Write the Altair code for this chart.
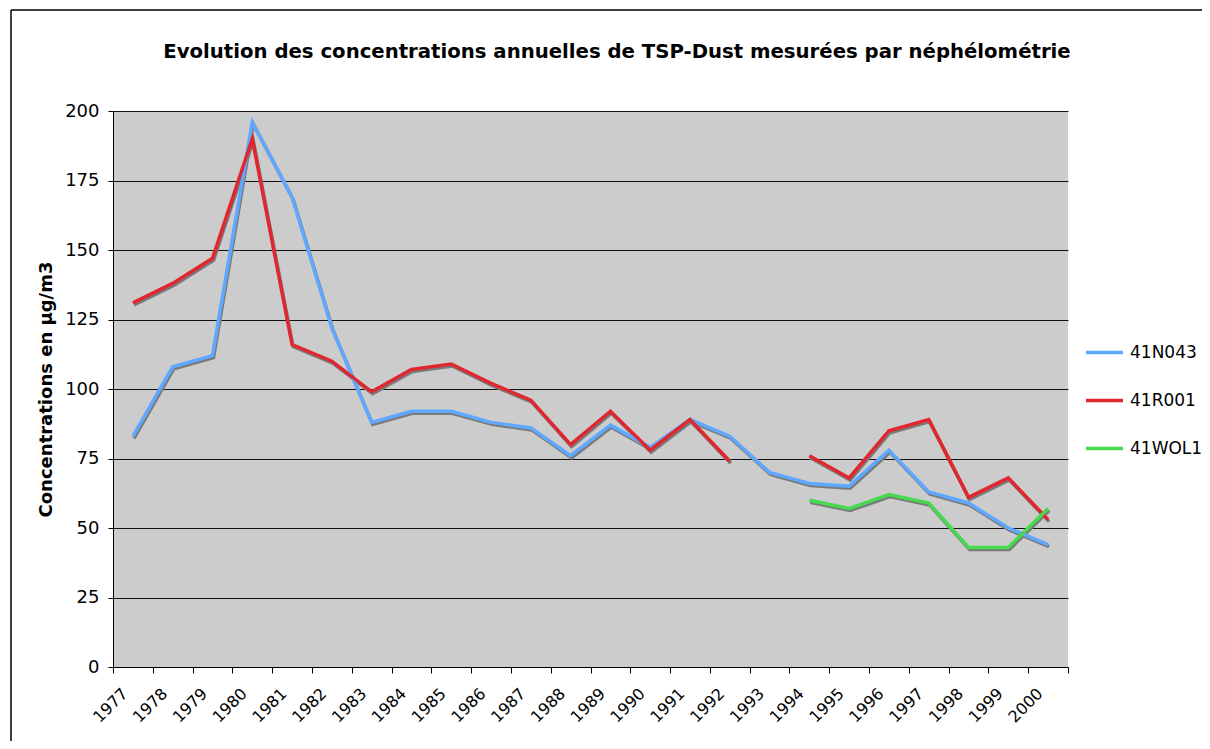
import altair as alt
import pandas as pd

years = [str(y) for y in range(1977, 2001)]
series_names = ["41N043", "41R001", "41WOL1"]
s_41N043 = [83, 108, 112, 196, 169, 122, 88, 92, 92, 88, 86, 76, 87, 79, 89, 83, 70, 66, 65, 78, 63, 59, 50, 44]
s_41R001 = [131, 138, 147, 190, 116, 110, 99, 107, 109, 102, 96, 80, 92, 78, 89, 74, None, 76, 68, 85, 89, 61, 68, 53]
s_41WOL1 = [None] * 17 + [60, 57, 62, 59, 43, 43, 57]
colors = ["#5FA8FF", "#E0262E", "#47D94F"]
title_text = "Evolution des concentrations annuelles de TSP-Dust mesurées par néphélométrie"
y_title = "Concentrations en µg/m3"

rows = []
for name, vals in zip(series_names, [s_41N043, s_41R001, s_41WOL1]):
    seg = 0
    for yr, v in zip(years, vals):
        if v is None:
            seg += 1
            continue
        rows.append({"year": yr, "value": v, "series": name, "seg": f"{name}-{seg}"})
df = pd.DataFrame(rows)

FONT = "DejaVu Sans"

x_enc = alt.X("year:O", sort=years, bandPosition=0.5,
              scale=alt.Scale(type="band", domain=years, paddingInner=0, paddingOuter=0),
              axis=alt.Axis(title=None, labelAngle=-45, labelFontSize=16, labelFont=FONT,
                            labelColor="black", tickBand="extent", tickColor="black",
                            domainColor="black", tickSize=6, labelPadding=12, labelOffset=-14,
                            grid=False))
y_enc = alt.Y("value:Q", scale=alt.Scale(domain=[0, 200], nice=False, zero=True),
              axis=alt.Axis(title=y_title, values=list(range(0, 201, 25)),
                            labelFontSize=18, labelFont=FONT, labelColor="black",
                            titleFontSize=18, titleFont=FONT, titleFontWeight="bold",
                            titleColor="black", titleX=-67, titleY=278, titleBaseline="middle",
                            titleAlign="center",
                            tickColor="black", tickSize=5, labelPadding=9,
                            domainColor="black", grid=True, gridColor="#111111", gridWidth=1))

shadow = alt.Chart(df).mark_line(strokeWidth=3.5, color="#7a7a7a", xOffset=1, yOffset=2,
                                 strokeJoin="miter").encode(
    x=x_enc, y=y_enc, detail="seg:N")

lines = alt.Chart(df).mark_line(strokeWidth=3.5, strokeJoin="miter").encode(
    x=x_enc, y=y_enc, detail="seg:N",
    color=alt.Color("series:N", scale=alt.Scale(domain=series_names, range=colors),
                    legend=alt.Legend(title=None, orient="none", legendX=971, legendY=221,
                                      symbolType="stroke", symbolSize=1369, symbolStrokeWidth=3.5,
                                      labelFontSize=17, labelFont=FONT, labelColor="black",
                                      labelOffset=5, rowPadding=19, padding=0)))

one = pd.DataFrame({"t": [title_text]})
title_mark = alt.Chart(one).mark_text(font=FONT, fontSize=19.7, fontWeight="bold", color="black",
                                      align="center", baseline="alphabetic").encode(
    x=alt.value(504), y=alt.value(-53), text="t:N")

border_top = alt.Chart(one).mark_rule(color="black", strokeWidth=1.5, strokeCap="butt").encode(
    x=alt.value(-102), x2=alt.value(1089), y=alt.value(-101), y2=alt.value(-101))
border_left = alt.Chart(one).mark_rule(color="black", strokeWidth=1.5, strokeCap="butt").encode(
    x=alt.value(-102), x2=alt.value(-102), y=alt.value(-101), y2=alt.value(630))

chart = alt.layer(shadow, lines, title_mark, border_top, border_left).properties(
    width=955, height=556,
    autosize=alt.AutoSizeParams(type="none"),
    padding={"left": 105, "top": 103, "right": 134, "bottom": 74},
    background="white",
).configure_view(fill="#CCCCCC", stroke=None)

chart.save("out.html", embed_options={"renderer": "svg", "actions": False})
